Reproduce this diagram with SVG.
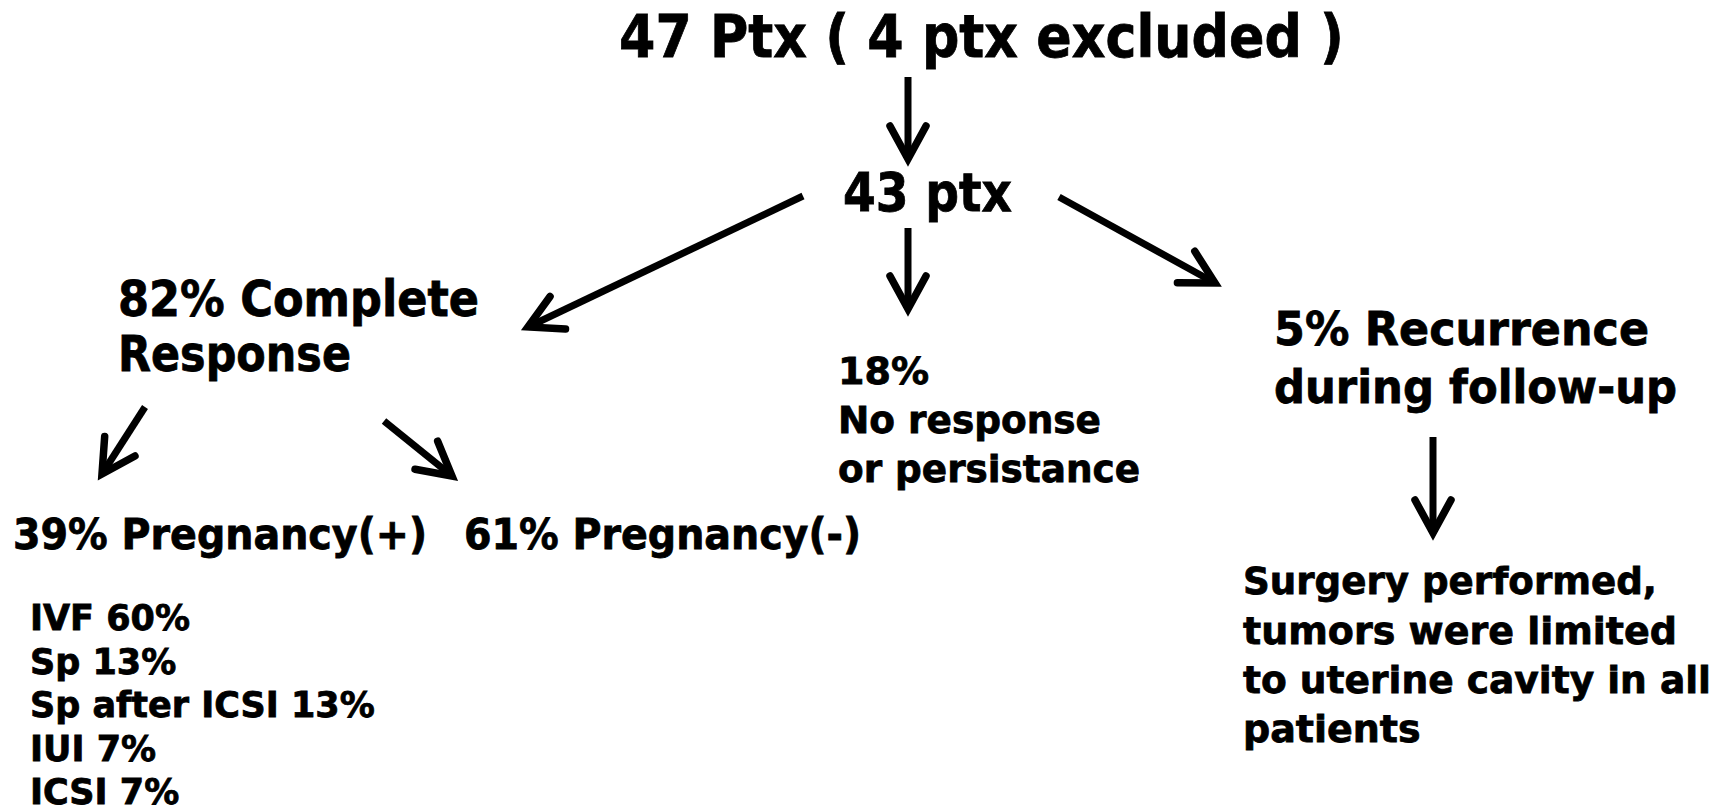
<svg xmlns="http://www.w3.org/2000/svg" width="1725" height="809" viewBox="0 0 1725 809">
<style>
text{font-family:Verdana,"DejaVu Sans",sans-serif;font-weight:bold;fill:#000;stroke:#000;stroke-width:0.8}
.arr{fill:none;stroke:#000;stroke-width:7;marker-end:url(#ah)}
</style>
<defs>
<marker id="ah" markerUnits="userSpaceOnUse" orient="auto" overflow="visible" markerWidth="1" markerHeight="1">
<path d="M-33,-18 L0,0 L-33,18" fill="none" stroke="#000" stroke-width="7.5" stroke-linejoin="miter" stroke-linecap="round"/>
</marker>
</defs>
<rect width="1725" height="809" fill="#fff"/>
<g id="connectors">
<path class="arr" d="M908,77 L908,159"/>
<path class="arr" d="M908,228 L908,309"/>
<path class="arr" d="M803,196 L528,327"/>
<path class="arr" d="M1059,197 L1215,283"/>
<path class="arr" d="M145,407 L102,474"/>
<path class="arr" d="M384,421 L452,476"/>
<path class="arr" d="M1433,437 L1433,533"/>
</g>
<g id="n-total"><text x="619" y="57" font-size="59" textLength="725" lengthAdjust="spacingAndGlyphs">47 Ptx ( 4 ptx excluded )</text></g>
<g id="n-43"><text x="843" y="211" font-size="53" textLength="169" lengthAdjust="spacingAndGlyphs">43 ptx</text></g>
<g id="n-complete"><text x="118" y="316" font-size="49" textLength="361" lengthAdjust="spacingAndGlyphs">82% Complete</text><text x="118" y="371" font-size="49" textLength="233" lengthAdjust="spacingAndGlyphs">Response</text></g>
<g id="n-preg-pos"><text x="13" y="549" font-size="42" textLength="414" lengthAdjust="spacingAndGlyphs">39% Pregnancy(+)</text></g>
<g id="n-preg-neg"><text x="464" y="549" font-size="42" textLength="397" lengthAdjust="spacingAndGlyphs">61% Pregnancy(-)</text></g>
<g id="n-methods">
<text x="30" y="630" font-size="35">IVF 60%</text>
<text x="30" y="674" font-size="35">Sp 13%</text>
<text x="30" y="717" font-size="35">Sp after ICSI 13%</text>
<text x="30" y="761" font-size="35">IUI 7%</text>
<text x="30" y="804" font-size="35">ICSI 7%</text>
</g>
<g id="n-noresp">
<text x="838" y="384" font-size="38">18%</text>
<text x="838" y="433" font-size="38" textLength="263" lengthAdjust="spacingAndGlyphs">No response</text>
<text x="838" y="482" font-size="38" textLength="302" lengthAdjust="spacingAndGlyphs">or persistance</text>
</g>
<g id="n-recur">
<text x="1274" y="345" font-size="47" textLength="375" lengthAdjust="spacingAndGlyphs">5% Recurrence</text>
<text x="1274" y="403" font-size="47" textLength="403" lengthAdjust="spacingAndGlyphs">during follow-up</text>
</g>
<g id="n-surgery">
<text x="1243" y="594" font-size="38" textLength="414" lengthAdjust="spacingAndGlyphs">Surgery performed,</text>
<text x="1243" y="644" font-size="38" textLength="434" lengthAdjust="spacingAndGlyphs">tumors were limited</text>
<text x="1243" y="693" font-size="38" textLength="468" lengthAdjust="spacingAndGlyphs">to uterine cavity in all</text>
<text x="1243" y="742" font-size="38">patients</text>
</g>
</svg>
